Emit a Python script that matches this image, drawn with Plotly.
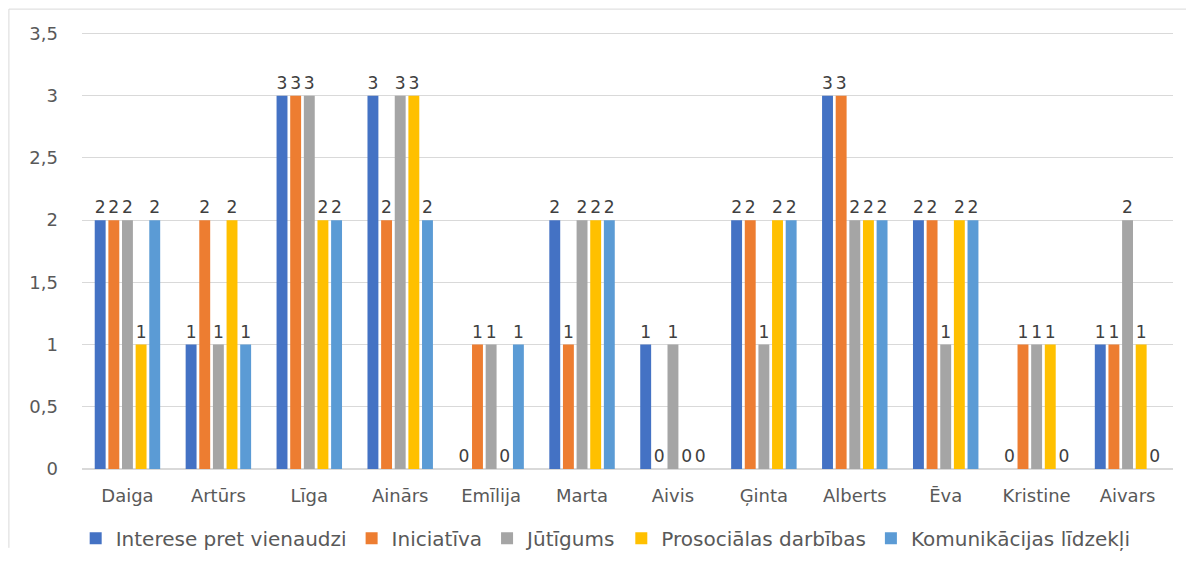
import plotly.graph_objects as go

categories = ["Daiga", "Artūrs", "Līga", "Ainārs", "Emīlija", "Marta", "Aivis",
              "Ģinta", "Alberts", "Ēva", "Kristine", "Aivars"]
series_names = ["Interese pret vienaudzi", "Iniciatīva", "Jūtīgums",
                "Prosociālas darbības", "Komunikācijas līdzekļi"]
interese = [2, 1, 3, 3, 0, 2, 1, 2, 3, 2, 0, 1]
iniciativa = [2, 2, 3, 2, 1, 1, 0, 2, 3, 2, 1, 1]
jutigums = [2, 1, 3, 3, 1, 2, 1, 1, 2, 1, 1, 2]
prosocialas = [1, 2, 2, 3, 0, 2, 0, 2, 2, 2, 1, 1]
komunikacijas = [2, 1, 2, 2, 1, 2, 0, 2, 2, 2, 0, 0]
colors = ["#4472C4", "#ED7D31", "#A5A5A5", "#FFC000", "#5B9BD5"]
yticks = [0, 0.5, 1, 1.5, 2, 2.5, 3, 3.5]

FONT = "DejaVu Sans"
FS = 18
fig = go.Figure()
for name, vals, col in zip(series_names,
                           [interese, iniciativa, jutigums, prosocialas, komunikacijas],
                           colors):
    fig.add_trace(go.Bar(
        x=categories, y=vals, name=name, marker_color=col,
        marker_line_width=0,
        text=[str(v) for v in vals],
        textposition="outside", cliponaxis=False,
        textfont=dict(family=FONT, size=FS, color="#404040"),
    ))

fig.update_layout(
    width=1194, height=568,
    margin=dict(l=74, r=29, t=23, b=107, autoexpand=False),
    plot_bgcolor="white", paper_bgcolor="white",
    barmode="group", bargap=0.25, bargroupgap=0.2,
    separators=", ",
    font=dict(family=FONT, size=FS, color="#595959"),
    legend=dict(orientation="h", x=0.48, xanchor="center", y=-0.158, yanchor="middle",
                font=dict(family=FONT, size=20, color="#595959"),
                itemwidth=30, tracegroupgap=0),
    shapes=[
        dict(type="line", xref="paper", yref="paper", x0=-0.067, x1=1.1, y0=1.05, y1=1.05,
             line=dict(color="#d9d9d9", width=1)),
        dict(type="line", xref="paper", yref="paper", x0=-0.067, x1=-0.067, y0=1.05, y1=-0.18,
             line=dict(color="#d9d9d9", width=1)),
    ],
)
fig.update_yaxes(range=[0, 3.52], tickvals=yticks, showgrid=True, gridcolor="#d9d9d9",
                 gridwidth=1, zeroline=True, zerolinecolor="#d9d9d9", showline=False,
                 ticks="", ticklabelstandoff=23,
                 tickfont=dict(family=FONT, size=FS, color="#595959"))
fig.update_xaxes(showline=False, ticks="", tickfont=dict(family=FONT, size=FS, color="#595959"),
                 ticklabelstandoff=14)

fig.write_html("out.html")
